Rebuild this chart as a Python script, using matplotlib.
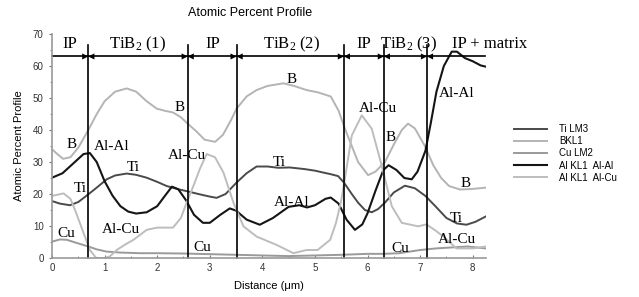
import matplotlib
matplotlib.use('Agg')
import matplotlib.pyplot as plt
from matplotlib.ticker import MultipleLocator

plt.rcParams['font.family'] = 'Liberation Sans'
plt.rcParams['mathtext.default'] = 'regular'

# Al KL1 Al-Al
alal_x = [0, 0.2, 0.4, 0.6, 0.72, 0.85, 1.0, 1.15, 1.3, 1.45, 1.6, 1.8, 2.0, 2.15, 2.28, 2.4,
          2.55, 2.7, 2.87, 3.0, 3.2, 3.38, 3.5, 3.7, 3.95, 4.2, 4.5, 4.7, 4.85, 5.0, 5.2, 5.3,
          5.45, 5.6, 5.76, 5.9, 6.0, 6.15, 6.3, 6.4, 6.55, 6.7, 6.84, 6.95, 7.1, 7.2, 7.31,
          7.45, 7.6, 7.7, 7.85, 8.0, 8.15, 8.25]
alal_y = [25.1, 26.5, 29.5, 32.5, 32.8, 30, 24, 19.5, 16.2, 14.5, 13.9, 14.3, 16.2, 19.5, 22.3, 21.5,
          18, 13.5, 11, 11, 13.5, 15.5, 14.8, 12, 10.4, 12.5, 16, 16.5, 15.8, 16.5, 18.5, 18.9,
          17, 12, 8.8, 10.5, 14, 21, 27.5, 29, 27.5, 25, 24.6, 27, 33.5, 42, 52,
          60, 64.5, 64.5, 62.5, 61.5, 60.2, 59.8]

# Ti LM3
ti_x = [0, 0.15, 0.34, 0.5, 0.69, 0.85, 1.04, 1.2, 1.42, 1.6, 1.8, 2.0, 2.18, 2.4, 2.56, 2.81,
        3.0, 3.13, 3.3, 3.51, 3.7, 3.89, 4.1, 4.3, 4.52, 4.8, 5.0, 5.16, 5.3, 5.44, 5.55, 5.7,
        5.82, 5.95, 6.08, 6.2, 6.33, 6.5, 6.71, 6.9, 7.1, 7.3, 7.5, 7.7, 7.88, 8.05, 8.25]
ti_y = [17.8, 17, 16.5, 17.5, 19.9, 22, 24.6, 25.8, 26.4, 26, 25.1, 23.8, 22.5, 21.5, 20.9, 19.9,
        19.2, 18.8, 20, 23.6, 26.5, 28.6, 28.6, 28.2, 28.3, 27.8, 27.3, 26.7, 26.2, 25.6, 23.6, 20,
        17.3, 15, 14.3, 15.3, 17.3, 20.5, 22.6, 21.8, 19.4, 16, 12.5, 10.8, 10.4, 11.3, 13]

# BKL1
b_x = [0, 0.1, 0.21, 0.35, 0.5, 0.69, 0.85, 1.0, 1.2, 1.42, 1.6, 1.8, 1.99, 2.15, 2.3, 2.45,
       2.58, 2.75, 2.9, 3.1, 3.25, 3.4, 3.51, 3.7, 3.89, 4.1, 4.4, 4.6, 4.84, 5.05, 5.3, 5.45,
       5.57, 5.7, 5.82, 6.01, 6.15, 6.33, 6.5, 6.65, 6.77, 6.9, 7.09, 7.25, 7.4, 7.55, 7.76,
       8.0, 8.25]
b_y = [34, 32.5, 31, 31.5, 34.5, 40, 45, 49, 52, 53, 52, 49, 46.7, 46, 45.5, 44,
       42, 39.5, 37, 36.3, 38.5, 43, 46.7, 50.5, 52.5, 53.8, 54.6, 53.8, 52.5, 51.8, 50.5, 46,
       40.4, 35, 30, 25.9, 27, 30, 35.5, 40, 42, 40.5, 35, 29, 25, 22.5, 21.4,
       21.6, 22]

# Cu LM2
cu_x = [0, 0.15, 0.28, 0.45, 0.69, 0.85, 1.04, 1.3, 1.67, 2.0, 2.5, 3.0, 3.5, 4.0, 4.5, 5.0,
        5.5, 6.0, 6.3, 6.6, 7.0, 7.3, 7.6, 7.9, 8.25]
cu_y = [5.1, 5.8, 5.7, 4.8, 3.6, 2.7, 2, 1.7, 1.5, 1.5, 1.4, 1.2, 1.0, 0.8, 0.6, 0.8,
        1.0, 1.3, 1.3, 1.5, 2.5, 3.0, 3.3, 3.6, 3.0]

# Al KL1 Al-Cu
alcu_x = [0, 0.22, 0.35, 0.45, 0.6, 0.72, 0.84, 1.0, 1.1, 1.23, 1.4, 1.55, 1.8, 2.0, 2.3, 2.45,
          2.56, 2.7, 2.81, 2.94, 3.1, 3.26, 3.45, 3.64, 3.89, 4.27, 4.59, 4.84, 5.05, 5.29, 5.4,
          5.5, 5.6, 5.7, 5.89, 6.08, 6.27, 6.46, 6.65, 6.96, 7.12, 7.3, 7.44, 7.69, 8.0, 8.25]
alcu_y = [19.4, 20.2, 18.5, 14.5, 7.8, 2.5, 0, 0, 0.5, 2.5, 4.3, 5.7, 8.8, 9.5, 9.5, 12.5,
          17.3, 23, 27.8, 32.5, 31.5, 26.7, 17.3, 9.9, 6.7, 4.1, 1.5, 2.5, 2.5, 5.7, 11,
          18, 28, 38.3, 44.6, 40.4, 28.8, 16.2, 11, 9.9, 10.5, 8.5, 6.7, 3, 3, 3.6]

# region boundaries and names
bounds = [0.69, 2.58, 3.51, 5.55, 6.31, 7.13]
regions = ['IP', 'TiB$_2$ (1)', 'IP', 'TiB$_2$ (2)', 'IP', 'TiB$_2$ (3)', 'IP + matrix']
region_x = [0.33, 1.62, 3.05, 4.55, 5.93, 6.77, 8.32]

# curve labels
label_text = ['B', 'Al-Al', 'Ti', 'Ti', 'B', 'Al-Cu', 'Al-Cu', 'Cu', 'Cu', 'B', 'Ti', 'Al-Al',
              'Al-Cu', 'B', 'Al-Al', 'B', 'Ti', 'Al-Cu', 'Cu']
label_x = [0.37, 1.13, 0.53, 1.55, 2.43, 2.57, 1.31, 0.28, 2.85, 4.56, 4.33, 4.56,
           6.2, 6.43, 7.69, 7.87, 7.69, 7.69, 6.62]
label_y = [35.6, 35, 21.7, 28.3, 47.2, 32, 8.8, 7.6, 3.4, 55.9, 29.9, 17.2,
           46.7, 37.8, 51.4, 23.3, 12.5, 5.9, 3]

fig = plt.figure(figsize=(6.39, 2.97), dpi=100)
ax = fig.add_axes([0.0814, 0.1313, 0.679, 0.754])

ax.plot(ti_x, ti_y, color='#4a4a4a', lw=1.4, label='Ti LM3')
ax.plot(b_x, b_y, color='#b4b4b4', lw=1.4, label='BKL1')
ax.plot(cu_x, cu_y, color='#9a9a9a', lw=1.4, label='Cu LM2')
ax.plot(alal_x, alal_y, color='#151515', lw=1.5, label='Al KL1  Al-Al')
ax.plot(alcu_x, alcu_y, color='#bdbdbd', lw=1.4, label='Al KL1  Al-Cu')

for b in bounds:
    ax.plot([b, b], [0, 66.5], color='black', lw=1.2, clip_on=False)

ax.plot([0, 8.24], [63, 63], color='black', lw=1.2, clip_on=False)
edges = [0] + bounds + [8.24]
aprops = dict(arrowstyle='-|>', color='black', lw=0, mutation_scale=11, shrinkA=0, shrinkB=0)
for i, b in enumerate(bounds):
    ax.annotate('', xy=(b, 63), xytext=((edges[i] + b) / 2, 63), arrowprops=aprops)
    ax.annotate('', xy=(b, 63), xytext=((edges[i + 2] + b) / 2, 63), arrowprops=aprops)

for t, x in zip(regions, region_x):
    ax.text(x, 66.8, t, ha='center', va='center', fontsize=12, family='Liberation Serif',
            clip_on=False)

for t, x, y in zip(label_text, label_x, label_y):
    ax.text(x, y, t, ha='center', va='center', fontsize=11, family='Liberation Serif')

ax.set_xlim(0, 8.25)
ax.set_ylim(0, 70)
ax.xaxis.set_major_locator(MultipleLocator(1))
ax.xaxis.set_minor_locator(MultipleLocator(0.5))
ax.yaxis.set_major_locator(MultipleLocator(10))
ax.yaxis.set_minor_locator(MultipleLocator(5))
ax.tick_params(axis='x', which='both', direction='in')
ax.tick_params(axis='y', which='both', direction='out')
ax.tick_params(which='both', labelsize=7, colors='#777777', labelcolor='#333333')
ax.tick_params(which='major', length=2.5)
ax.tick_params(which='minor', length=1.5)
for s in ['top', 'right']:
    ax.spines[s].set_visible(False)
for s in ['left', 'bottom']:
    ax.spines[s].set_color('#999999')
    ax.spines[s].set_linewidth(1.2)

ax.set_xlabel('Distance (\u03bcm)', fontsize=8, labelpad=6)
ax.set_ylabel('Atomic Percent Profile', fontsize=8, labelpad=6)
fig.text(0.391, 0.956, 'Atomic Percent Profile', ha='center', va='center', fontsize=9)

ax.legend(loc='upper left', bbox_to_anchor=(0.804, 0.582), bbox_transform=fig.transFigure,
          frameon=False, fontsize=7, handlelength=3.4, labelspacing=0.22, handletextpad=1.3,
          borderpad=0, borderaxespad=0)

fig.savefig('out.png', dpi=100)
